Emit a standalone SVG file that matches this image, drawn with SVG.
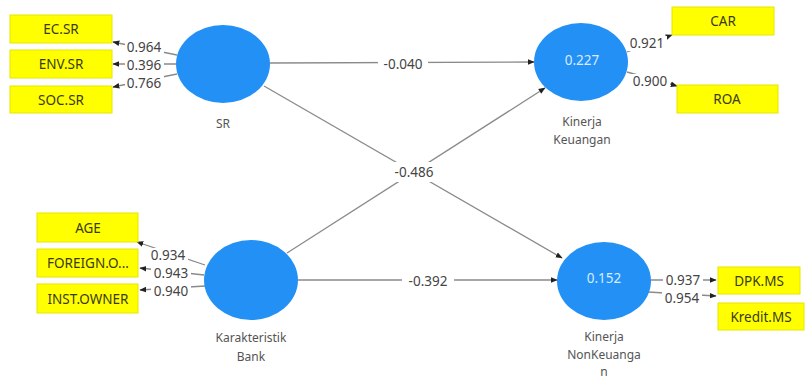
<svg xmlns="http://www.w3.org/2000/svg" width="807" height="379" viewBox="0 0 807 379">
<defs>
<marker id="ah" viewBox="0 0 10 10" refX="9" refY="5" markerWidth="7" markerHeight="7" orient="auto" markerUnits="userSpaceOnUse">
<path d="M0,1 L10,5 L0,9 Z" fill="#222"/>
</marker>
</defs>
<style>
.bg{fill:#ffffff}
.lv{fill:#2290f5}
.ind{fill:#ffff00;stroke:#e6e600;stroke-width:1}
.it{font-family:"Noto Sans","Open Sans","DejaVu Sans",sans-serif;font-size:13.5px;fill:#3a3a1a;text-anchor:middle;dominant-baseline:central}
.nm{font-family:"Noto Sans","Open Sans","DejaVu Sans",sans-serif;font-size:12px;fill:#555;text-anchor:middle}
.r2{font-family:"Noto Sans","Open Sans","DejaVu Sans",sans-serif;font-size:13.5px;fill:#d8ecff;text-anchor:middle;dominant-baseline:central}
.ln{stroke:#8a8a8a;stroke-width:1.3;fill:none;marker-end:url(#ah)}
.pad{fill:#ffffff}
.lb{font-family:"Noto Sans","Open Sans","DejaVu Sans",sans-serif;font-size:13.5px;fill:#444;text-anchor:middle;dominant-baseline:central}
</style>
<rect class="bg" x="0" y="0" width="807" height="379"/>
<g id="connectors">
<line class="ln" x1="270" y1="63" x2="534" y2="62"/>
<line class="ln" x1="264" y1="86" x2="562" y2="258"/>
<line class="ln" x1="287" y1="253" x2="545" y2="88"/>
<line class="ln" x1="298" y1="280" x2="557" y2="280"/>
<line class="ln" x1="177" y1="55" x2="113" y2="42"/>
<line class="ln" x1="176" y1="64" x2="113" y2="64"/>
<line class="ln" x1="177" y1="74" x2="113" y2="87"/>
<line class="ln" x1="627" y1="52" x2="672" y2="35"/>
<line class="ln" x1="627" y1="72" x2="677" y2="86"/>
<line class="ln" x1="205" y1="265" x2="137" y2="242"/>
<line class="ln" x1="204" y1="275" x2="140" y2="268"/>
<line class="ln" x1="205" y1="286" x2="140" y2="290"/>
<line class="ln" x1="651" y1="280" x2="716" y2="280"/>
<line class="ln" x1="648" y1="292" x2="716" y2="296"/>
<rect class="pad" x="378" y="55" width="50" height="18"/>
<rect class="pad" x="388" y="162" width="52" height="20"/>
<rect class="pad" x="402" y="272" width="52" height="18"/>
<rect class="pad" x="125" y="40" width="39" height="15"/>
<rect class="pad" x="125" y="58" width="39" height="14"/>
<rect class="pad" x="125" y="76" width="39" height="15"/>
<rect class="pad" x="628" y="36" width="39" height="15"/>
<rect class="pad" x="630" y="74" width="40" height="15"/>
<rect class="pad" x="148" y="248" width="40" height="15"/>
<rect class="pad" x="151" y="266" width="40" height="14"/>
<rect class="pad" x="151" y="284" width="40" height="15"/>
<rect class="pad" x="663" y="274" width="40" height="14"/>
<rect class="pad" x="662" y="291" width="40" height="15"/>
<text class="lb" x="403" y="64">-0.040</text>
<text class="lb" x="414" y="172">-0.486</text>
<text class="lb" x="428" y="281">-0.392</text>
<text class="lb" x="144" y="47">0.964</text>
<text class="lb" x="144" y="65">0.396</text>
<text class="lb" x="144" y="83">0.766</text>
<text class="lb" x="647" y="43">0.921</text>
<text class="lb" x="650" y="81">0.900</text>
<text class="lb" x="168" y="255">0.934</text>
<text class="lb" x="171" y="273">0.943</text>
<text class="lb" x="171" y="291">0.940</text>
<text class="lb" x="683" y="280">0.937</text>
<text class="lb" x="682" y="298">0.954</text>
</g>
<g id="SR">
<ellipse class="lv" cx="223" cy="64" rx="47" ry="39"/>
<text class="nm" x="223" y="128">SR</text>
</g>
<g id="KinerjaKeuangan">
<ellipse class="lv" cx="581" cy="62" rx="47" ry="39"/>
<text class="r2" x="582" y="60">0.227</text>
<text class="nm" x="582" y="126">Kinerja</text>
<text class="nm" x="582" y="144">Keuangan</text>
</g>
<g id="KarakteristikBank">
<ellipse class="lv" cx="251" cy="280" rx="47" ry="40"/>
<text class="nm" x="251" y="342">Karakteristik</text>
<text class="nm" x="251" y="361">Bank</text>
</g>
<g id="KinerjaNonKeuangan">
<ellipse class="lv" cx="604" cy="281" rx="47" ry="39"/>
<text class="r2" x="604" y="278">0.152</text>
<text class="nm" x="604" y="341">Kinerja</text>
<text class="nm" x="604" y="359">NonKeuanga</text>
<text class="nm" x="604" y="376">n</text>
</g>
<g id="EC.SR"><rect class="ind" x="10" y="15" width="102" height="28"/><text class="it" x="61" y="29">EC.SR</text></g>
<g id="ENV.SR"><rect class="ind" x="10" y="50" width="102" height="28"/><text class="it" x="61" y="64">ENV.SR</text></g>
<g id="SOC.SR"><rect class="ind" x="10" y="86" width="102" height="27"/><text class="it" x="61" y="100">SOC.SR</text></g>
<g id="CAR"><rect class="ind" x="672" y="7" width="102" height="28"/><text class="it" x="723" y="21">CAR</text></g>
<g id="ROA"><rect class="ind" x="677" y="85" width="101" height="28"/><text class="it" x="727" y="99">ROA</text></g>
<g id="AGE"><rect class="ind" x="37" y="213" width="101" height="29"/><text class="it" x="88" y="228">AGE</text></g>
<g id="FOREIGN.O"><rect class="ind" x="37" y="249" width="101" height="28"/><text class="it" x="88" y="263">FOREIGN.O...</text></g>
<g id="INST.OWNER"><rect class="ind" x="37" y="284" width="101" height="29"/><text class="it" x="88" y="299">INST.OWNER</text></g>
<g id="DPK.MS"><rect class="ind" x="718" y="267" width="82" height="27"/><text class="it" x="759" y="281">DPK.MS</text></g>
<g id="Kredit.MS"><rect class="ind" x="718" y="303" width="86" height="27"/><text class="it" x="761" y="317">Kredit.MS</text></g>
</svg>
